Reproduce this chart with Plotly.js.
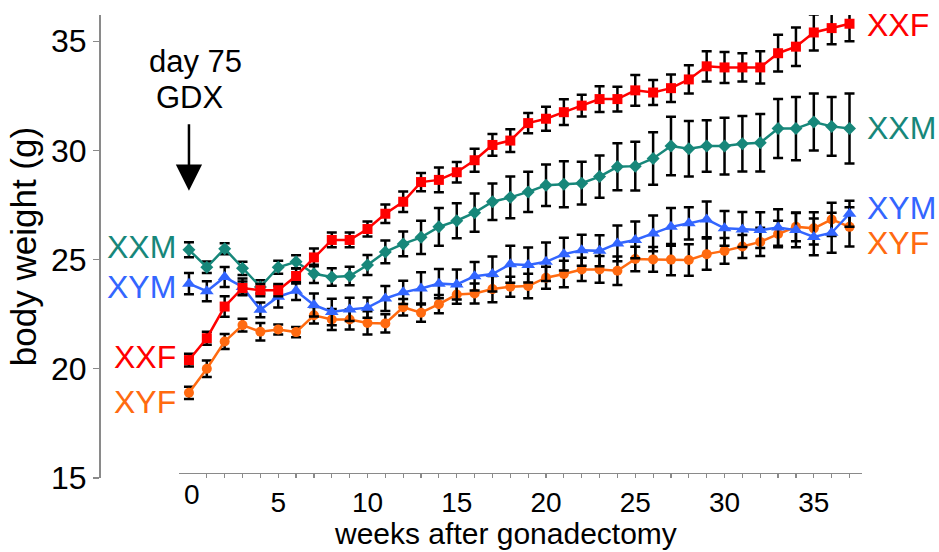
<!DOCTYPE html>
<html>
<head>
<meta charset="utf-8">
<script src="https://cdn.plot.ly/plotly-3.0.1.min.js"></script>
<style>html,body{margin:0;padding:0;background:#fff;}#chart{width:939px;height:552px;}</style>
</head>
<body>
<div id="chart"></div>
<script>
// weeks after gonadectomy
const weeks = [0,1,2,3,4,5,6,7,8,9,10,11,12,13,14,15,16,17,18,19,20,21,22,23,24,25,26,27,28,29,30,31,32,33,34,35,36,37];

// mean body weight (g)
const XXF = [20.4,21.4,22.85,23.7,23.6,23.6,24.25,25.1,25.9,25.9,26.4,27.1,27.65,28.55,28.65,29.0,29.55,30.25,30.45,31.25,31.45,31.75,32.05,32.35,32.35,32.75,32.65,32.85,33.25,33.85,33.8,33.8,33.8,34.45,34.75,35.4,35.6,35.8];
const XXM = [25.45,24.65,25.5,24.6,23.75,24.65,24.9,24.35,24.2,24.25,24.75,25.35,25.72,26.02,26.5,26.78,27.15,27.65,27.85,28.1,28.4,28.45,28.5,28.8,29.25,29.28,29.63,30.2,30.08,30.2,30.2,30.3,30.35,31.0,31.0,31.3,31.1,31.0];
const XYM = [23.9,23.55,24.2,23.75,22.7,23.3,23.57,22.92,22.6,22.72,22.8,23.22,23.5,23.68,23.9,23.86,24.24,24.34,24.79,24.75,24.9,25.25,25.43,25.4,25.74,25.9,26.2,26.5,26.66,26.84,26.43,26.38,26.35,26.47,26.35,26.04,26.23,27.1];
const XYF = [18.9,20.0,21.25,22.0,21.7,21.8,21.68,22.45,22.26,22.26,22.1,22.08,22.82,22.57,22.96,23.4,23.45,23.65,23.76,23.79,24.17,24.34,24.55,24.55,24.49,25.03,25.01,25.0,24.98,25.25,25.4,25.6,25.81,26.17,26.5,26.43,26.84,26.5];

// error (g)
const XXF_err = [0.29,0.3,0.47,0.3,0.28,0.28,0.34,0.41,0.34,0.34,0.34,0.42,0.47,0.42,0.57,0.47,0.53,0.5,0.52,0.46,0.55,0.59,0.5,0.59,0.57,0.7,0.57,0.63,0.65,0.69,0.71,0.65,0.74,0.84,0.88,0.82,0.74,0.8];
const XXM_err = [0.34,0.26,0.25,0.3,0.3,0.3,0.3,0.42,0.4,0.42,0.46,0.52,0.57,0.76,0.86,0.8,0.88,0.84,0.96,0.92,0.95,1.05,0.98,0.97,1.08,1.12,1.2,1.34,1.27,1.18,1.3,1.27,1.32,1.35,1.45,1.3,1.34,1.6];
const XYM_err = [0.49,0.46,0.46,0.38,0.34,0.49,0.42,0.53,0.61,0.53,0.46,0.57,0.53,0.74,0.67,0.69,0.65,0.8,0.85,0.8,0.88,0.75,0.71,0.71,0.82,0.84,0.82,0.86,0.74,0.82,0.8,0.8,0.82,0.84,0.78,0.84,0.92,0.6];
const XYF_err = [0.28,0.38,0.34,0.29,0.4,0.23,0.23,0.38,0.48,0.46,0.53,0.42,0.38,0.42,0.42,0.42,0.46,0.6,0.46,0.56,0.5,0.61,0.53,0.61,0.65,0.56,0.57,0.72,0.72,0.72,0.59,0.53,0.65,0.61,0.66,0.74,0.76,0.9];

const yTicks = [15,20,25,30,35];
const xTickVals = [1,2,3,4,5,6,7,8,9,10,11,12,13,14,15,16,17,18,19,20,21,22,23,24,25,26,27,28,29,30,31,32,33,34,35,36,37];
const xTickText = xTickVals.map(v => (v % 5 === 0 ? String(v) : ''));

const COL = {XXF:'#ff0000', XXM:'#17877a', XYM:'#3366ff', XYF:'#ff6a10'};
const FONT = 'Liberation Sans, Arial, sans-serif';

function series(name, y, err, symbol, size){
  return {
    x: weeks, y: y, name: name, type: 'scatter', mode: 'lines+markers',
    line: {color: COL[name], width: 2.5},
    marker: {color: COL[name], symbol: symbol, size: size},
    error_y: {type: 'data', array: err, visible: true, color: '#000', thickness: 2.5, width: 5},
    cliponaxis: false, showlegend: false
  };
}

const data = [
  series('XYF', XYF, XYF_err, 'circle', 10),
  series('XYM', XYM, XYM_err, 'triangle-up', 12),
  series('XXM', XXM, XXM_err, 'diamond', 10),
  series('XXF', XXF, XXF_err, 'square', 10)
];

function lab(text, x, y, color, anchor){
  return {text: text, x: x, y: y, xref: 'paper', yref: 'paper', showarrow: false,
    xanchor: anchor, yanchor: 'middle', font: {family: FONT, size: 32, color: color}};
}

const annotations = [
  lab('XXM', 0.1035, 0.499, COL.XXM, 'right'),
  lab('XYM', 0.1035, 0.4125, COL.XYM, 'right'),
  lab('XXF', 0.1035, 0.2613, COL.XXF, 'right'),
  lab('XYF', 0.1035, 0.1641, COL.XYF, 'right'),
  lab('XXF', 1.004, 0.978, COL.XXF, 'left'),
  lab('XXM', 1.004, 0.756, COL.XXM, 'left'),
  lab('XYM', 1.004, 0.583, COL.XYM, 'left'),
  lab('XYF', 1.004, 0.5076, COL.XYF, 'left'),
  {text: 'day 75', x: (195-99)/763, y: (478-61)/463, xref: 'paper', yref: 'paper', showarrow: false,
   xanchor: 'center', yanchor: 'middle', font: {family: FONT, size: 31, color: '#000'}},
  {text: 'GDX', x: (190-99)/763, y: (478-98)/463, xref: 'paper', yref: 'paper', showarrow: false,
   xanchor: 'center', yanchor: 'middle', font: {family: FONT, size: 31, color: '#000'}},
  {text: '', x: 0, y: 28.15, xref: 'x', yref: 'y', showarrow: true, ax: 0, ay: -68,
   arrowhead: 2, arrowsize: 2.1, arrowwidth: 2.5, arrowcolor: '#000'},
  {text: '0', x: 0.15, y: 0.012, xref: 'x', yref: 'paper', showarrow: false,
   xanchor: 'center', yanchor: 'top', yshift: -5, font: {family: FONT, size: 28, color: '#000'}},
  {text: 'weeks after gonadectomy', x: (505-99)/763, y: (478-533.5)/463, xref: 'paper', yref: 'paper',
   showarrow: false, xanchor: 'center', yanchor: 'middle', font: {family: FONT, size: 30, color: '#000'}}
];

const layout = {
  width: 939, height: 552,
  margin: {l: 99, r: 77, t: 15, b: 74},
  paper_bgcolor: '#fff', plot_bgcolor: '#fff',
  font: {family: FONT, color: '#000'},
  xaxis: {
    domain: [0.1048, 1], range: [-0.56, 37.7], anchor: 'free', position: 0.0108,
    showgrid: false, zeroline: false, showline: true, linecolor: '#8a8a8a', linewidth: 1.5,
    ticks: 'outside', ticklen: 4, tickwidth: 1.2, tickcolor: '#8a8a8a',
    tickvals: xTickVals, ticktext: xTickText,
    tickfont: {family: FONT, size: 28, color: '#000'}
  },
  yaxis: {
    domain: [0, 1], range: [15, 36.2], anchor: 'free', position: 0,
    showgrid: false, zeroline: false, showline: true, linecolor: '#8a8a8a', linewidth: 1.5,
    ticks: 'outside', ticklen: 6, tickwidth: 1.2, tickcolor: '#8a8a8a',
    tickvals: yTicks, ticktext: yTicks.map(String),
    tickfont: {family: FONT, size: 32, color: '#000'},
    title: {text: 'body weight (g)', font: {family: FONT, size: 35, color: '#000'}, standoff: 2}
  },
  annotations: annotations
};

Plotly.newPlot('chart', data, layout, {displayModeBar: false, staticPlot: true});
</script>
</body>
</html>
